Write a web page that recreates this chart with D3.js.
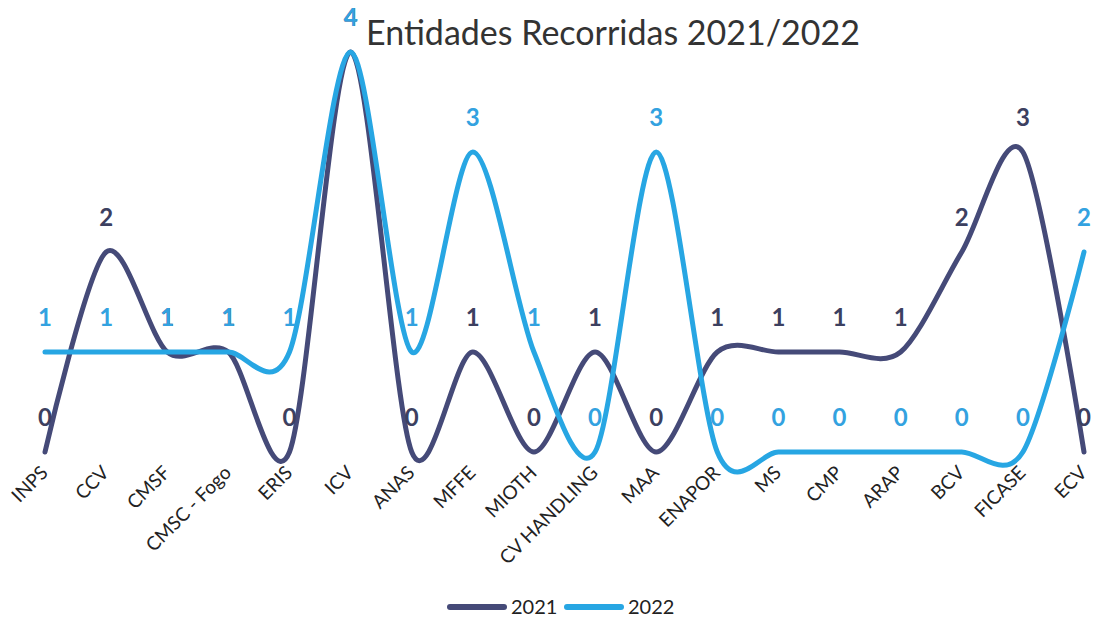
<!DOCTYPE html>
<html lang="pt">
<head>
<meta charset="UTF-8">
<title>Entidades Recorridas 2021/2022</title>
<style>
    body { margin: 0; background: #fff; font-family: Lato, "Open Sans", sans-serif; }
    svg { display: block; }
</style>
</head>
<body>
<script src="https://d3js.org/d3.v7.min.js"></script>
<script>
    // categories and values
    const categories = ["INPS", "CCV", "CMSF", "CMSC - Fogo", "ERIS", "ICV", "ANAS", "MFFE", "MIOTH",
        "CV HANDLING", "MAA", "ENAPOR", "MS", "CMP", "ARAP", "BCV", "FICASE", "ECV"];
    const values2021 = [0, 2, 1, 1, 0, 4, 0, 1, 0, 1, 0, 1, 1, 1, 1, 2, 3, 0];
    const values2022 = [1, 1, 1, 1, 1, 4, 1, 3, 1, 0, 3, 0, 0, 0, 0, 0, 0, 2];
    const seriesNames = ["2021", "2022"];

    const width = 1096, height = 621;
    const lineColors = ["#454a78", "#27a6e3"];
    const labelColors = ["#3c4060", "#33a2e0"];

    const series = seriesNames.map((name, i) => ({
        name: name,
        values: i === 0 ? values2021 : values2022
    }));

    const svg = d3.select("body").append("svg")
        .attr("width", width)
        .attr("height", height);

    const x = d3.scalePoint()
        .domain(categories)
        .range([45, 1084]);

    const y = d3.scaleLinear()
        .domain([0, 4])
        .range([452, 52]);

    // title
    svg.append("text")
        .attr("x", 613)
        .attr("y", 45)
        .attr("text-anchor", "middle")
        .attr("font-size", "34px")
        .attr("fill", "#333")
        .text("Entidades Recorridas 2021/2022");

    // smoothed lines (Excel style)
    const line = d3.line()
        .x((d, i) => x(categories[i]))
        .y(d => y(d))
        .curve(d3.curveCardinal.tension(0.1));

    svg.selectAll(".series")
        .data(series)
        .enter().append("path")
        .attr("class", "series")
        .attr("d", d => line(d.values))
        .attr("fill", "none")
        .attr("stroke", (d, i) => lineColors[i])
        .attr("stroke-width", 5)
        .attr("stroke-linecap", "round");

    // value labels
    series.forEach((s, si) => {
        svg.append("g").selectAll("text")
            .data(s.values)
            .enter().append("text")
            .attr("x", (d, i) => x(categories[i]))
            .attr("y", d => y(d) - 26)
            .attr("text-anchor", "middle")
            .attr("font-size", "24px")
            .attr("font-weight", "bold")
            .attr("fill", labelColors[si])
            .text(d => d);
    });

    // category axis labels, rotated
    const xAxis = svg.append("g");
    xAxis.selectAll("text")
        .data(categories)
        .enter().append("text")
        .attr("transform", d => `translate(${x(d) + 4},${474}) rotate(-45)`)
        .attr("text-anchor", "end")
        .attr("font-size", "19px")
        .attr("fill", "#222")
        .text(d => d);

    // legend
    const legend = svg.append("g")
        .attr("transform", "translate(450,607)");
    seriesNames.forEach((name, i) => {
        const g = legend.append("g").attr("transform", `translate(${i * 117},0)`);
        g.append("line")
            .attr("x1", 0).attr("x2", 54)
            .attr("y1", 0).attr("y2", 0)
            .attr("stroke", lineColors[i])
            .attr("stroke-width", 6)
            .attr("stroke-linecap", "round");
        g.append("text")
            .attr("x", 61)
            .attr("y", 7)
            .attr("font-size", "20px")
            .attr("fill", "#222")
            .text(name);
    });
</script>
</body>
</html>
